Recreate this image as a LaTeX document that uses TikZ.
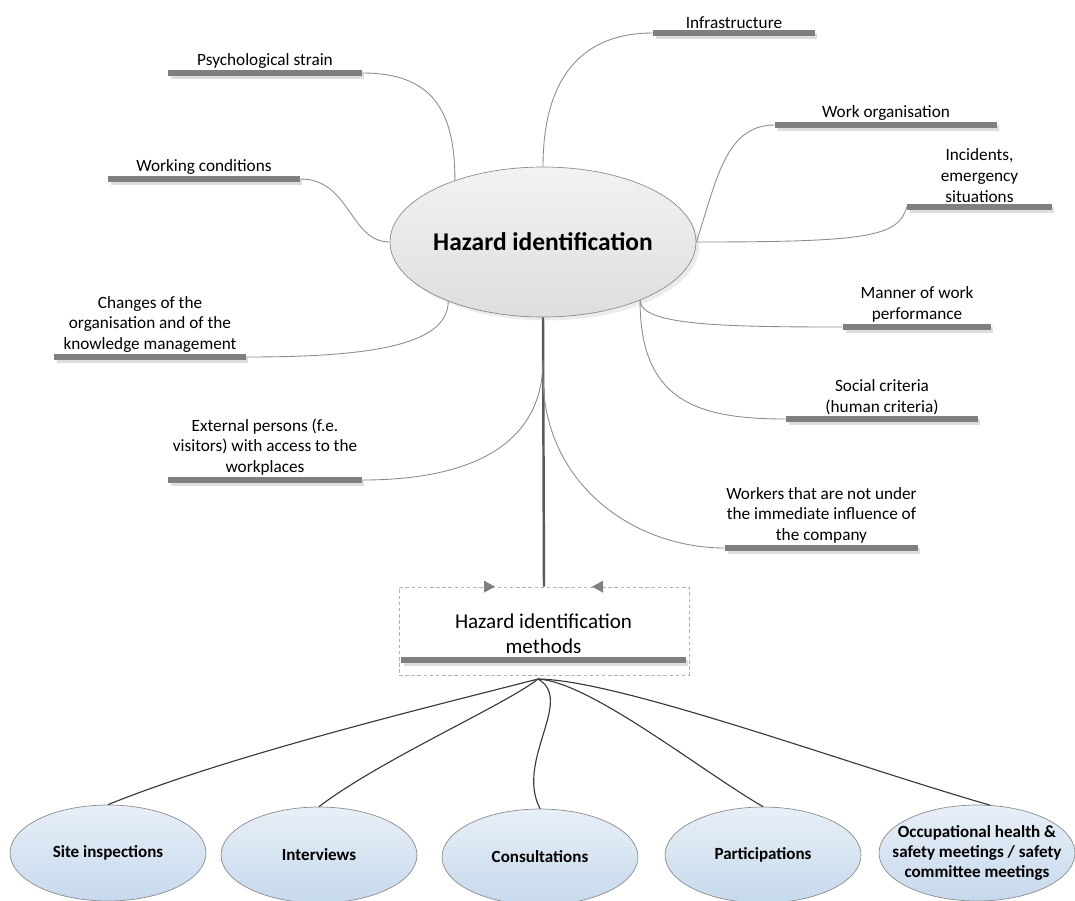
\documentclass[tikz,border=0pt]{standalone}
\usepackage{fontspec}
\setmainfont{Carlito}
\usepackage{tikz}
\usetikzlibrary{positioning}
\usetikzlibrary{shapes.geometric, shadows}
\definecolor{barc}{HTML}{7F7F7F}
\definecolor{twigc}{HTML}{8C8C8C}
\definecolor{branchc}{HTML}{3A3A3A}
\definecolor{rimc}{HTML}{8C8C8C}
\definecolor{bluetop}{HTML}{E8EFF7}
\definecolor{bluebot}{HTML}{C6D9EC}

\begin{document}
\begin{tikzpicture}[x=0.02cm, y=0.02cm,
  topic/.style={font=\fontsize{9.8}{11.8}\selectfont, align=center, inner sep=0.5pt},
  topicbar/.style={rectangle, fill=barc, minimum height=0.12cm, minimum width=#1, inner sep=0pt,
    general shadow={fill=black!13, shadow xshift=0.05cm, shadow yshift=-0.05cm}},
  twig/.style={draw=twigc, line width=0.5pt},
  branch/.style={draw=branchc, line width=0.65pt},
  method/.style={ellipse, draw=rimc, top color=bluetop, bottom color=bluebot,
    minimum width=3.92cm, minimum height=1.92cm, inner sep=0pt,
    font=\fontsize{9.7}{11.6}\selectfont\bfseries, align=center}]
\useasboundingbox (0,0) rectangle (1075,-900);

% centre
\node[ellipse, draw=rimc, top color=black!5, bottom color=black!13,
  minimum width=6.12cm, minimum height=3cm, inner xsep=-0.15cm, inner ysep=0pt,
  font=\fontsize{14.5}{17}\selectfont\bfseries,
  drop shadow={opacity=.15, shadow xshift=2pt, shadow yshift=-2pt}] (haz) at (543,-242) {Hazard identification};

% topics
\node[topicbar=3.24cm] (infra) at (734,-33) {};
\node[topic, above=0pt of infra] (infra-t) {Infrastructure};
\node[topicbar=3.88cm] (psych) at (265,-73) {};
\node[topic, above=0pt of psych] (psych-t) {Psychological strain};
\node[topicbar=4.44cm] (workorg) at (886,-125) {};
\node[topic, above=0pt of workorg] (workorg-t) {Work organisation};
\node[topicbar=2.9cm] (incid) at (979.5,-207) {};
\node[topic, above=0pt of incid] (incid-t) {Incidents,\\emergency\\situations};
\node[topicbar=3.84cm] (workcond) at (204,-179) {};
\node[topic, above=0pt of workcond] (workcond-t) {Working conditions};
\node[topicbar=3.84cm] (changes) at (150,-357) {};
\node[topic, above=0pt of changes] (changes-t) {Changes of the\\organisation and of the\\knowledge management};
\node[topicbar=2.96cm] (manner) at (917,-327) {};
\node[topic, above=0pt of manner] (manner-t) {Manner of work\\performance};
\node[topicbar=3.84cm] (social) at (882,-419) {};
\node[topic, above=0pt of social] (social-t) {Social criteria\\(human criteria)};
\node[topicbar=3.88cm] (extern) at (265,-480) {};
\node[topic, above=0pt of extern] (extern-t) {External persons (f.e.\\visitors) with access to the\\workplaces};
\node[topicbar=3.86cm] (workers) at (821.5,-548) {};
\node[topic, above=0pt of workers] (workers-t) {Workers that are not under\\the immediate influence of\\the company};

\draw[twig] (haz.north) .. controls +(0,90) and +(-70,0) .. (infra.west);
\draw[twig] (haz.145) .. controls +(0,70) and +(70,0) .. (psych.east);
\draw[twig] (haz.west) .. controls +(-40,0) and +(50,0) .. (workcond.east);
\draw[twig] (haz.east) .. controls +(20,60) and +(-50,0) .. (workorg.west);
\draw[twig] (haz.east) .. controls +(170,0) and +(-8,-30) .. (incid.west);
\draw[twig] (haz.212) .. controls +(0,-45) and +(120,0) .. (changes.east);
\draw[twig] (haz.-31) .. controls +(0,-25) and +(-120,0) .. (manner.west);
\draw[twig] (haz.-31) .. controls +(0,-100) and +(-90,0) .. (social.west);

% methods box
\node[draw=black!30, dash pattern=on 2pt off 1.5pt, minimum width=5.8cm, minimum height=1.76cm,
  inner sep=0pt] (methbox) at (544,-631) {};
\node[topicbar=5.7cm] (methbar) at (543.5,-660) {};
\node[font=\fontsize{12}{14.2}\selectfont, align=center, inner sep=0.5pt, above=1pt of methbar] (meth)
  {Hazard identification\\methods};
\fill[barc] (methbox.north) ++(-60,6) -- ++(11,-6) -- ++(-11,-6) -- cycle;
\fill[barc] (methbox.north) ++(59,6) -- ++(-11,-6) -- ++(11,-6) -- cycle;

\coordinate (extk) at (543,-360);
\coordinate (wrk) at (543,-375);
\draw[line width=1.4pt, draw=black!65] (haz.south) -- (methbox.north);
\draw[twig] (extk) .. controls +(0,-90) and +(100,0) .. (extern.east);
\draw[twig] (wrk) .. controls +(0,-110) and +(-90,0) .. (workers.west);

% methods
\node[method] (site) at (108,-853) {Site inspections};
\node[method] (interv) at (319,-855) {Interviews};
\node[method] (consult) at (540,-857) {Consultations};
\node[method] (partic) at (763,-855) {Participations};
\node[method, inner xsep=-0.5cm] (ohs) at (977,-853) {Occupational health \&\\safety meetings / safety\\committee meetings};

\coordinate (hub) at (538,-679);
\draw[branch] (hub) .. controls (437,-705) and (230,-755) .. (site.north);
\draw[branch] (hub) .. controls (505,-705) and (380,-760) .. (interv.north);
\draw[branch] (hub) .. controls (575,-700) and (515,-760) .. (consult.north);
\draw[branch] (hub) .. controls (590,-682) and (700,-770) .. (partic.north);
\draw[branch] (hub) .. controls (620,-680) and (850,-765) .. (ohs.75);
\end{tikzpicture}
\end{document}
